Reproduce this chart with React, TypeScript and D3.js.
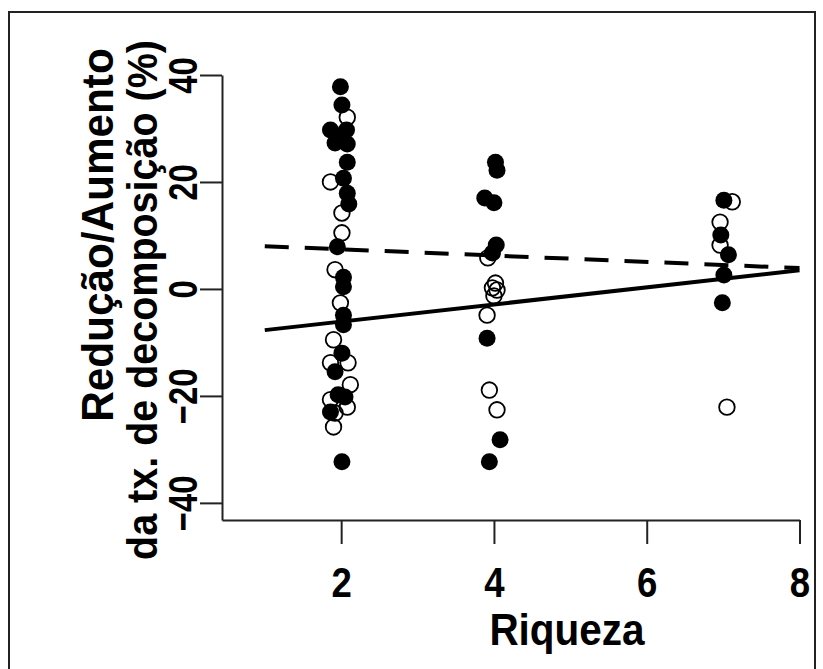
import React, { useEffect, useRef } from 'react'
import * as d3 from 'd3'

// richness (jittered as in the figure) and % change, filled symbols
const filledX = [1.99, 2.01, 1.86, 2.07, 1.99, 1.92, 2.08, 2.08, 2.03, 2.08, 2.1, 1.95, 2.03, 2.03, 2.03, 2.03, 2.01, 1.92, 1.96, 2.05, 1.86, 2.01,
  4.02, 4.04, 3.88, 4.0, 4.03, 3.98, 3.91, 4.08, 3.94,
  7.01, 6.97, 7.07, 7.01, 6.99]
const filledY = [37.8, 34.4, 29.7, 29.7, 28.6, 27.3, 27.1, 23.7, 20.7, 17.9, 15.9, 7.9, 2.2, 0.4, -4.9, -6.7, -12.0, -15.5, -19.8, -20.2, -23.0, -32.3,
  23.7, 22.2, 17.0, 16.1, 8.2, 6.7, -9.2, -28.2, -32.3,
  16.6, 10.1, 6.4, 2.6, -2.6]

// open symbols
const openX = [2.08, 1.86, 2.01, 2.01, 1.92, 1.99, 1.9, 1.86, 2.09, 2.12, 1.86, 2.08, 1.92, 1.9,
  3.92, 4.02, 4.04, 3.98, 4.0, 3.91, 3.94, 4.04,
  7.12, 6.96, 6.96, 7.05]
const openY = [32.1, 20.0, 14.2, 10.5, 3.6, -2.6, -9.5, -13.8, -13.8, -17.9, -20.7, -22.1, -23.2, -25.8,
  5.8, 1.1, -0.2, 0.2, -1.3, -4.9, -18.9, -22.6,
  16.3, 12.5, 8.2, -22.1]

// fitted lines
const fitX = [1, 8]
const solidFitY = [-7.7, 3.5]
const dashedFitY = [8.0, 3.9]

const xTicks = [2, 4, 6, 8]
const yTicks = [-40, -20, 0, 20, 40]

const font = '"Liberation Sans", Arial, sans-serif'

const App = () => {
  const ref = useRef<SVGSVGElement>(null)

  useEffect(() => {
    const svg = d3.select(ref.current)
    svg.selectAll('*').remove()

    const x = d3.scaleLinear().domain([0.44, 8]).range([222, 799.5])
    const y = d3.scaleLinear().domain([-43.2, 40]).range([520, 75])

    svg.append('rect')
      .attr('x', 9).attr('y', 12).attr('width', 806).attr('height', 670)
      .attr('fill', 'none').attr('stroke', '#222').attr('stroke-width', 2)

    // y axis
    const yAxis = svg.append('g')
      .attr('transform', `translate(${x.range()[0]},0)`)
      .call(d3.axisLeft(y).tickValues(yTicks).tickSize(22).tickSizeOuter(0).tickFormat(d3.format('d')))
    yAxis.select('.domain').attr('stroke', '#222').attr('stroke-width', 2)
    yAxis.selectAll('.tick line').attr('stroke', '#222').attr('stroke-width', 2)
    yAxis.selectAll('.tick text')
      .attr('x', null).attr('dy', null)
      .attr('transform', 'translate(-25,0) rotate(-90) scale(0.8,1)')
      .attr('text-anchor', 'middle')
      .attr('font-family', font).attr('font-size', 41).attr('font-weight', 'bold').attr('fill', '#000')

    // x axis
    const xAxis = svg.append('g')
      .attr('transform', `translate(0,${y.range()[0]})`)
      .call(d3.axisBottom(x).tickValues(xTicks).tickSize(24).tickSizeOuter(0))
    xAxis.select('.domain').attr('stroke', '#222').attr('stroke-width', 2)
    xAxis.selectAll('.tick line').attr('stroke', '#222').attr('stroke-width', 2)
    xAxis.selectAll('.tick text')
      .attr('y', null).attr('dy', null)
      .attr('transform', 'translate(0,77) scale(0.87,1)')
      .attr('font-family', font).attr('font-size', 42).attr('font-weight', 'bold').attr('fill', '#000')

    // fitted lines
    const line = d3.line<[number, number]>().x(d => x(d[0])).y(d => y(d[1]))
    svg.append('path')
      .attr('d', line(fitX.map((v, i) => [v, dashedFitY[i]] as [number, number])))
      .attr('fill', 'none').attr('stroke', '#000').attr('stroke-width', 4)
      .attr('stroke-dasharray', '24 16')
    svg.append('path')
      .attr('d', line(fitX.map((v, i) => [v, solidFitY[i]] as [number, number])))
      .attr('fill', 'none').attr('stroke', '#000').attr('stroke-width', 4)

    // points
    svg.append('g').selectAll('circle')
      .data(filledX.map((v, i) => [v, filledY[i]]))
      .enter().append('circle')
      .attr('cx', d => x(d[0])).attr('cy', d => y(d[1])).attr('r', 8.5)
      .attr('fill', '#000')
    svg.append('g').selectAll('circle')
      .data(openX.map((v, i) => [v, openY[i]]))
      .enter().append('circle')
      .attr('cx', d => x(d[0])).attr('cy', d => y(d[1])).attr('r', 7.8)
      .attr('fill', 'none').attr('stroke', '#000').attr('stroke-width', 1.8)

    // titles
    svg.append('text')
      .attr('transform', 'translate(113,235) rotate(-90) scale(0.94,1)')
      .attr('text-anchor', 'middle')
      .attr('font-family', font).attr('font-size', 45).attr('font-weight', 'bold')
      .text('Redução/Aumento')
    svg.append('text')
      .attr('transform', 'translate(157,300) rotate(-90) scale(0.94,1)')
      .attr('text-anchor', 'middle')
      .attr('font-family', font).attr('font-size', 42).attr('font-weight', 'bold')
      .text('da tx. de decomposição (%)')
    svg.append('text')
      .attr('transform', 'translate(567,645) scale(0.9,1)')
      .attr('text-anchor', 'middle')
      .attr('font-family', font).attr('font-size', 45).attr('font-weight', 'bold')
      .text('Riqueza')
  }, [])

  return (
    <svg ref={ref} width={823} height={669}
      style={{ position: 'absolute', left: 0, top: 0, background: '#fff' }} />
  )
}

export default App
